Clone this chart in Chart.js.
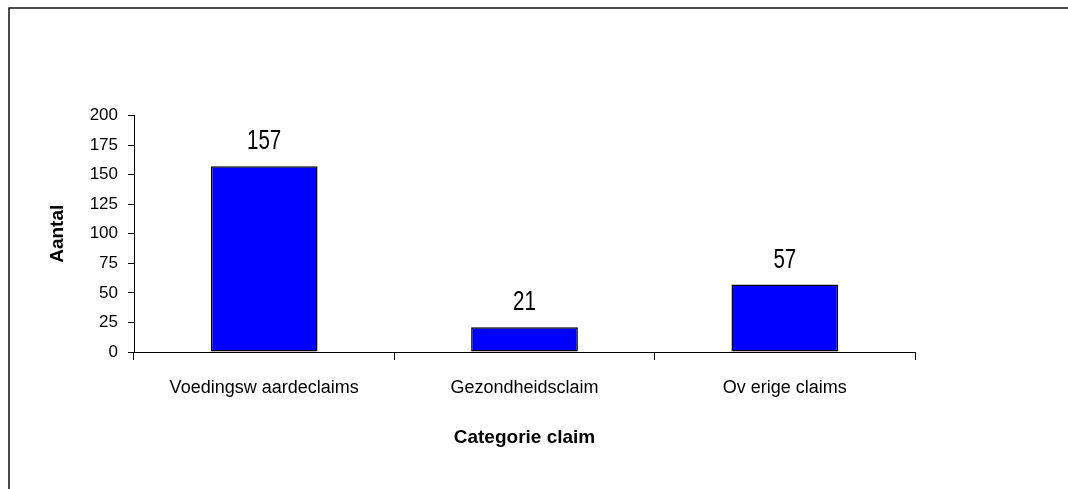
<!DOCTYPE html>
<html lang="nl">
<head>
    <meta charset="UTF-8">
    <title>Claims per categorie</title>
    <script src="https://cdn.jsdelivr.net/npm/chart.js"></script>
    <style>
        body { margin: 0; background: #fff; }
        #wrap { position: relative; width: 1068px; height: 489px; }
    </style>
</head>
<body>
    <div id="wrap"><canvas id="claimChart"></canvas></div>
    <script>
        const categories = ['Voedingsw aardeclaims', 'Gezondheidsclaim', 'Ov erige claims'];
        const counts = [157, 21, 57];
        const yTicks = [0, 25, 50, 75, 100, 125, 150, 175, 200];

        const FONT = "'Liberation Sans', Arial, sans-serif";

        // outer frame (left and top edges only visible in the picture)
        const framePlugin = {
            id: 'frame',
            beforeDraw(chart) {
                const ctx = chart.ctx;
                ctx.save();
                ctx.strokeStyle = '#111';
                ctx.lineWidth = 1.5;
                ctx.beginPath();
                ctx.moveTo(9, chart.height);
                ctx.lineTo(9, 8);
                ctx.lineTo(chart.width, 8);
                ctx.stroke();
                ctx.restore();
            }
        };

        // value above every bar, a bit condensed like the original
        const valueLabels = {
            id: 'valueLabels',
            afterDatasetsDraw(chart) {
                const ctx = chart.ctx;
                const meta = chart.getDatasetMeta(0);
                ctx.save();
                ctx.font = '27px ' + FONT;
                ctx.fillStyle = '#000';
                ctx.textAlign = 'center';
                ctx.textBaseline = 'alphabetic';
                meta.data.forEach((bar, i) => {
                    ctx.save();
                    ctx.translate(bar.x, bar.y - 17);
                    ctx.scale(0.76, 1);
                    ctx.fillText(String(counts[i]), 0, 0);
                    ctx.restore();
                });
                ctx.restore();
            }
        };

        new Chart(document.getElementById('claimChart'), {
            type: 'bar',
            data: {
                labels: categories,
                datasets: [{
                    data: counts,
                    backgroundColor: '#0000FF',
                    borderColor: '#000',
                    borderWidth: 1.5,
                    borderSkipped: false,
                    categoryPercentage: 1,
                    barPercentage: 0.41
                }]
            },
            options: {
                responsive: true,
                maintainAspectRatio: false,
                animation: false,
                layout: { padding: { top: 115.5, right: 153, left: 0, bottom: 0 } },
                plugins: { legend: { display: false }, tooltip: { enabled: false } },
                scales: {
                    x: {
                        grid: { offset: true, drawOnChartArea: false, tickLength: 8, color: '#000', tickColor: '#000' },
                        border: { color: '#000', width: 1 },
                        ticks: { color: '#000', font: { family: FONT, size: 18 }, padding: 17, maxRotation: 0 },
                        title: {
                            display: true, text: 'Categorie claim', color: '#000',
                            font: { family: FONT, size: 19, weight: 'bold' },
                            padding: { top: 0, bottom: 40 }
                        },
                        afterFit(scale) { scale.height = 137; }
                    },
                    y: {
                        min: 0,
                        max: 200,
                        afterBuildTicks(scale) { scale.ticks = yTicks.map(v => ({ value: v })); },
                        grid: { drawOnChartArea: false, tickLength: 6, color: '#000', tickColor: '#000' },
                        border: { color: '#000', width: 1 },
                        ticks: { color: '#000', font: { family: FONT, size: 17 }, padding: 10 },
                        title: {
                            display: true, text: 'Aantal', color: '#000',
                            font: { family: FONT, size: 19, weight: 'bold' },
                            padding: { top: 46, bottom: 0 }
                        },
                        afterFit(scale) { scale.width = 134; }
                    }
                }
            },
            plugins: [framePlugin, valueLabels]
        });
    </script>
</body>
</html>
